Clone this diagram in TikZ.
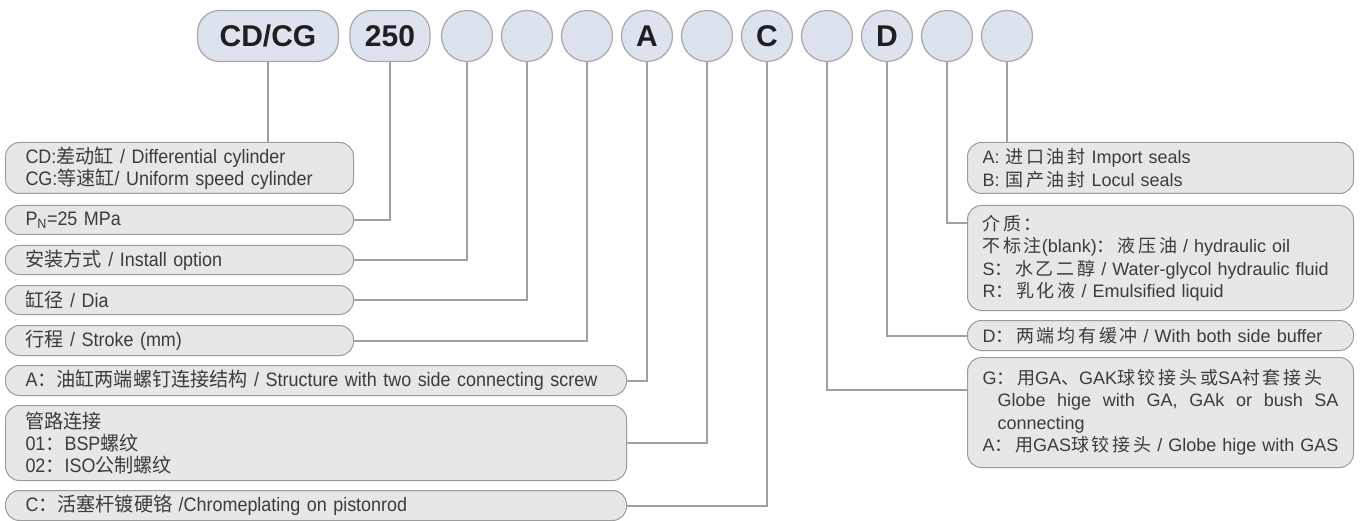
\documentclass[tikz,border=0pt]{standalone}
\usepackage{fontspec}
\setmainfont{Liberation Sans}
\newfontfamily\cjk{Noto Sans CJK SC}
\newfontfamily\narrow[FakeStretch=0.92]{Liberation Sans}
\newfontfamily\cjknarrow[FakeStretch=0.98]{Noto Sans CJK SC}
\newfontfamily\cjkwide[LetterSpace=15]{Noto Sans CJK SC}
\newcommand\zhfont{\cjk}
\newcommand\zh[1]{{\zhfont #1}}
\newcommand\lfont{\narrow\let\zhfont\cjknarrow\fontsize{19.5}{22}\selectfont}
\newcommand\rfont{\let\zhfont\cjkwide\fontsize{18}{22.5}\selectfont}
\definecolor{pillfill}{HTML}{DCE3EF}
\definecolor{pillline}{HTML}{A8A8A8}
\definecolor{boxfill}{HTML}{E6E7E8}
\definecolor{boxline}{HTML}{9C9C9C}
\definecolor{linkgray}{HTML}{A0A0A0}
\definecolor{textgray}{HTML}{3C3C3C}

\begin{document}
\begin{tikzpicture}[x=1pt,y=-1pt,
    pill/.style={draw=pillline,fill=pillfill,line width=1.2pt,rounded corners=22pt,
      minimum height=51pt,inner sep=0pt,text=black!88,
      font=\fontsize{30}{30}\selectfont\bfseries},
    dot/.style={pill,circle,sharp corners,minimum size=51pt},
    lbox/.style={draw=boxline,fill=boxfill,line width=1pt,rounded corners=14pt,
      anchor=north west,inner xsep=20pt,inner ysep=0pt,align=left,
      text=textgray,font=\lfont,text width=308pt,minimum height=29pt},
    lwide/.style={lbox,text width=581pt},
    rbox/.style={lbox,font=\rfont,inner xsep=15pt,text width=356pt},
    link/.style={draw=linkgray,line width=2pt}]
\useasboundingbox[fill=white] (0,0) rectangle (1364,521);

% code row
\node[pill,minimum width=141pt] (cdcg) at (268,36) {CD/CG};
\node[pill,minimum width=80pt] (p250) at (390,36) {250};
\foreach \n/\t [count=\i from 0] in {cInst/{},cDia/{},cStroke/{},cStruct/A,
    cPipe/{},cRod/C,cJoint/{},cBuf/D,cMed/{},cSeal/{}}
  \node[dot] (\n) at (467+60*\i,36) {\t};

% left column
\node[lbox,minimum height=51pt] (bType) at (5,142)
  {CD:\zh{差动缸} / Differential cylinder\\CG:\zh{等速缸}/ Uniform speed cylinder};
\node[lbox] (bPress) at (5,205) {P\textsubscript{N}=25 MPa};
\node[lbox] (bInst) at (5,245) {\zh{安装方式} / Install option};
\node[lbox] (bDia) at (5,285) {\zh{缸径} / Dia};
\node[lbox,minimum height=30pt] (bStroke) at (5,325) {\zh{行程} / Stroke (mm)};
\node[lwide,minimum height=30pt] (bStruct) at (5,365)
  {A\zh{：油缸两端螺钉连接结构} / Structure with two side connecting screw};
\node[lwide,minimum height=75pt] (bPipe) at (5,405)
  {\zh{管路连接}\\01\zh{：}BSP\zh{螺纹}\\02\zh{：}ISO\zh{公制螺纹}};
\node[lwide,minimum height=30pt] (bRod) at (5,490)
  {C\zh{：活塞杆镀硬铬} /Chromeplating on pistonrod};

% right column
\node[rbox,minimum height=51pt] (bSeal) at (967,142)
  {A: \zh{进口油封} Import seals\\B: \zh{国产油封} Locul seals};
\node[rbox,minimum height=105pt] (bMed) at (967,205)
  {\zh{介质：}\\\zh{不标注}(blank)\zh{：液压油} / hydraulic oil\\
   S\zh{：水乙二醇} / Water-glycol hydraulic fluid\\R\zh{：乳化液} / Emulsified liquid};
\node[rbox,minimum height=30pt] (bBuf) at (967,320)
  {D\zh{：两端均有缓冲} / With both side buffer};
\node[rbox,minimum height=110pt] (bJoint) at (967,357)
  {G\zh{：用}GA\zh{、}GAK\zh{球铰接头或}SA\zh{衬套接头}\\
   \hspace*{15pt}\makebox[341pt][l]{Globe \hfill hige \hfill with \hfill GA, \hfill
     GAk \hfill or \hfill bush \hfill SA}\\
   \hspace*{15pt}connecting\\
   A\zh{：用}GAS\zh{球铰接头} / Globe hige with GAS};

% connectors
\draw[link] (cdcg.south) -- (cdcg.south |- bType.north);
\draw[link] (p250.south) |- (bPress.east);
\draw[link] (cInst.south) |- (bInst.east);
\draw[link] (cDia.south) |- (bDia.east);
\draw[link] (cStroke.south) |- (bStroke.east);
\draw[link] (cStruct.south) |- (bStruct.east);
\draw[link] (cPipe.south) |- (bPipe.east);
\draw[link] (cRod.south) |- (bRod.east);
\draw[link] (cJoint.south) |- ([yshift=-33pt]bJoint.north west);
\draw[link] (cBuf.south) |- (bBuf.west);
\draw[link] (cMed.south) |- ([yshift=-18pt]bMed.north west);
\draw[link] (cSeal.south) -- (cSeal.south |- bSeal.north);
\end{tikzpicture}
\end{document}
